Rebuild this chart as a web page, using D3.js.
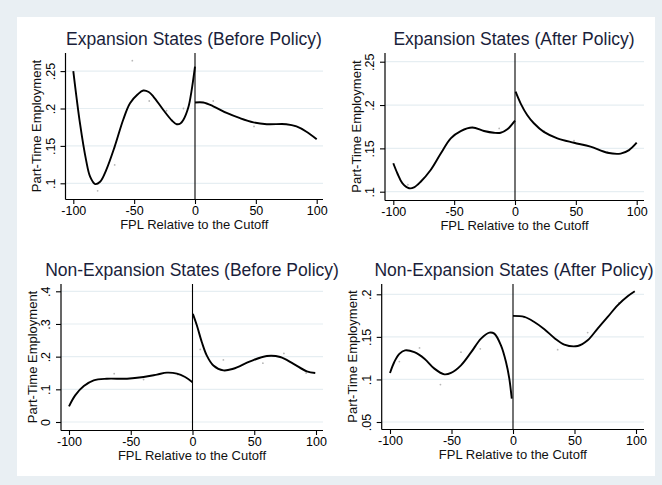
<!DOCTYPE html>
<html><head><meta charset="utf-8">
<script src="https://cdn.jsdelivr.net/npm/d3@7"></script>
<style>
html,body{margin:0;padding:0;background:#e9eff3;}
svg{display:block;}
</style></head>
<body>
<svg id="c" width="662" height="485"></svg>
<script>
// ---------- DATA ----------
const xTicks = [-100, -50, 0, 50, 100];
const xLabel = "FPL Relative to the Cutoff";
const yLabel = "Part-Time Employment";
const titles = [
  "Expansion States (Before Policy)",
  "Expansion States (After Policy)",
  "Non-Expansion States (Before Policy)",
  "Non-Expansion States (After Policy)"
];
const yTicks1 = [0.1, 0.15, 0.2, 0.25];
const yTicks2 = [0.1, 0.15, 0.2, 0.25];
const yTicks3 = [0, 0.1, 0.2, 0.3, 0.4];
const yTicks4 = [0.05, 0.1, 0.15, 0.2];
const yTickText1 = [".1", ".15", ".2", ".25"];
const yTickText2 = [".1", ".15", ".2", ".25"];
const yTickText3 = ["0", ".1", ".2", ".3", ".4"];
const yTickText4 = [".05", ".1", ".15", ".2"];

// Panel 1: Expansion, before
const expBeforeLeft = [[-100,0.25],[-94.5,0.180],[-89.5,0.131],[-86.2,0.109],[-82,0.099],[-78,0.102],[-72.9,0.118],[-66,0.149],[-59,0.185],[-53.4,0.207],[-47,0.219],[-42.5,0.224],[-38,0.222],[-34.2,0.216],[-26,0.198],[-19,0.184],[-15,0.179],[-12,0.180],[-9.5,0.185],[-5.4,0.202],[-3,0.222],[0,0.256]];
const expBeforeRight = [[0,0.208],[6.8,0.208],[15,0.203],[26,0.194],[37,0.187],[48,0.1815],[59,0.179],[75,0.179],[83.4,0.176],[91.6,0.169],[100,0.159]];
const expBeforeDots = [[-94.5,0.180],[-80,0.090],[-66,0.1245],[-51.5,0.264],[-37.6,0.210],[-23.4,0.197],[-9.5,0.200],[15,0.210],[48.5,0.176],[82,0.177]];

// Panel 2: Expansion, after
const expAfterLeft = [[-100,0.1328],[-96.6,0.121],[-92.6,0.110],[-87,0.104],[-83,0.105],[-77.5,0.1115],[-69.3,0.125],[-61,0.144],[-52.8,0.1616],[-44.6,0.170],[-35,0.174],[-25.5,0.170],[-17.3,0.168],[-11.8,0.168],[-6.3,0.172],[0,0.182]];
const expAfterRight = [[0.5,0.2154],[4.6,0.202],[10,0.1885],[15.5,0.179],[23.7,0.169],[34.8,0.1616],[48.5,0.1565],[62,0.152],[75.9,0.145],[86.8,0.144],[93.7,0.148],[100,0.1565]];
const expAfterDots = [[-88,0.108],[-35,0.174],[-13,0.173],[24,0.170],[48.5,0.159],[76,0.146]];

// Panel 3: Non-expansion, before
const nonBeforeLeft = [[-100,0.048],[-95,0.0816],[-88,0.110],[-80,0.1275],[-69.4,0.1325],[-53,0.1325],[-39.6,0.1376],[-28.8,0.145],[-20.7,0.151],[-12.6,0.148],[-6,0.1376],[0,0.122]];
const nonBeforeRight = [[0.3,0.331],[3.5,0.296],[7.5,0.245],[11.5,0.204],[16.9,0.173],[25,0.158],[33,0.163],[46.7,0.1856],[60.2,0.202],[71,0.199],[81.8,0.178],[92.6,0.155],[99.4,0.150]];
const nonBeforeDots = [[-63.4,0.148],[-39.6,0.130],[-12,0.145],[6.3,0.222],[25,0.190],[57,0.180],[74,0.210],[92,0.150]];

// Panel 4: Non-expansion, after
const nonAfterLeft = [[-100,0.1076],[-96.5,0.1205],[-92.4,0.130],[-87.8,0.1342],[-80.2,0.132],[-72,0.1244],[-63.9,0.1127],[-55.8,0.106],[-50.4,0.1076],[-42.3,0.1166],[-34,0.132],[-26,0.148],[-19.2,0.155],[-15.2,0.1538],[-9.8,0.140],[-5.7,0.1205],[-3,0.1009],[-1,0.0774]];
const nonAfterRight = [[0,0.1746],[9.2,0.1734],[17.3,0.1675],[25.5,0.159],[33.6,0.1487],[41.7,0.1409],[52.6,0.1393],[60.7,0.146],[68.8,0.1597],[77,0.1734],[85,0.187],[93.2,0.1977],[99,0.2036]];
const nonAfterDots = [[-92.4,0.121],[-76,0.137],[-59,0.094],[-42.3,0.132],[-26.6,0.136],[9,0.173],[36.3,0.135],[60.7,0.155],[86,0.190]];

// ---------- LAYOUT ----------
const panels = [
  {title: titles[0], tx:194, ty:45, axisX:65.5, right:323, top:53, bottom:199, xr:[73.3,316.7], yd:[0.1,0.25], yr:[183.3,71.1], yt:yTicks1, ytt:yTickText1, left:expBeforeLeft, rightC:expBeforeRight, dots:expBeforeDots},
  {title: titles[1], tx:514, ty:45, axisX:385, right:644, top:53, bottom:200, xr:[393.3,636.7], yd:[0.1,0.25], yr:[191.7,61.7], yt:yTicks2, ytt:yTickText2, left:expAfterLeft, rightC:expAfterRight, dots:expAfterDots},
  {title: titles[2], tx:192, ty:276, axisX:61, right:323, top:284, bottom:430, xr:[69,316], yd:[0,0.4], yr:[422,291.3], yt:yTicks3, ytt:yTickText3, left:nonBeforeLeft, rightC:nonBeforeRight, dots:nonBeforeDots},
  {title: titles[3], tx:514, ty:276, axisX:381.7, right:644, top:284, bottom:429, xr:[390,636], yd:[0.05,0.2], yr:[422,294.3], yt:yTicks4, ytt:yTickText4, left:nonAfterLeft, rightC:nonAfterRight, dots:nonAfterDots}
];

const svg = d3.select("#c");
svg.append("rect").attr("x",0).attr("y",0).attr("width",662).attr("height",485).attr("fill","#e9eff3");
svg.append("rect").attr("x",17).attr("y",17).attr("width",638).attr("height",459).attr("fill","#ffffff");

const font = "Arial, 'Liberation Sans', sans-serif";

panels.forEach(p => {
  const g = svg.append("g");
  const x = d3.scaleLinear().domain([-100,100]).range(p.xr);
  const y = d3.scaleLinear().domain(p.yd).range(p.yr);

  // gridlines
  g.selectAll("line.grid").data(p.yt).enter().append("line")
    .attr("x1", p.axisX).attr("x2", p.right)
    .attr("y1", d => y(d)).attr("y2", d => y(d))
    .attr("stroke", "#e6eef2").attr("stroke-width", 1.2);

  // scatter dots
  g.selectAll("circle").data(p.dots).enter().append("circle")
    .attr("cx", d => x(d[0])).attr("cy", d => y(d[1])).attr("r", 0.9)
    .attr("fill", "#b8b8b8");

  // x axis
  const xAxis = d3.axisBottom(x).tickValues(xTicks).tickSize(5).tickFormat(d => String(d));
  const gx = g.append("g").attr("transform", `translate(0,${p.bottom})`).call(xAxis);
  gx.select(".domain").remove();
  gx.append("line").attr("x1", p.axisX).attr("x2", p.right).attr("y1",0.5).attr("y2",0.5)
    .attr("stroke","#000").attr("stroke-width",1.2);
  gx.selectAll(".tick line").attr("stroke","#000").attr("stroke-width",1.1);
  gx.selectAll(".tick text").attr("y", 7).attr("dy","0.71em")
    .attr("font-family", font).attr("font-size", 12.5).attr("fill","#000");

  // y axis
  const yAxis = d3.axisLeft(y).tickValues(p.yt).tickSize(5).tickFormat((d,i) => p.ytt[i]);
  const gy = g.append("g").attr("transform", `translate(${p.axisX},0)`).call(yAxis);
  gy.select(".domain").remove();
  gy.append("line").attr("x1",0).attr("x2",0).attr("y1", p.top).attr("y2", p.bottom+0.5)
    .attr("stroke","#000").attr("stroke-width",1.2);
  gy.selectAll(".tick line").attr("stroke","#000").attr("stroke-width",1.1);
  gy.selectAll(".tick text")
    .attr("x", null).attr("dy", null)
    .attr("transform", "translate(-11,0) rotate(-90)")
    .attr("text-anchor","middle")
    .attr("font-family", font).attr("font-size", 12.5).attr("fill","#000");

  // cutoff line
  g.append("line").attr("x1", x(0)).attr("x2", x(0)).attr("y1", p.top).attr("y2", p.bottom)
    .attr("stroke","#000").attr("stroke-width",1.1);

  // fitted curves
  const line = d3.line().x(d => x(d[0])).y(d => y(d[1])).curve(d3.curveCatmullRom.alpha(0.5));
  [p.left, p.rightC].forEach(arr => {
    g.append("path").attr("d", line(arr)).attr("fill","none")
      .attr("stroke","#000").attr("stroke-width",1.9);
  });

  // axis titles
  g.append("text").attr("x", (p.axisX + p.right)/2).attr("y", p.bottom + 30)
    .attr("text-anchor","middle").attr("font-family", font).attr("font-size", 13)
    .attr("fill","#111").text(xLabel);
  g.append("text")
    .attr("transform", `translate(${p.axisX - 24.5},${(p.top + p.bottom)/2}) rotate(-90)`)
    .attr("text-anchor","middle").attr("font-family", font).attr("font-size", 13)
    .attr("fill","#111").text(yLabel);

  // panel title
  g.append("text").attr("x", p.tx).attr("y", p.ty).attr("text-anchor","middle")
    .attr("font-family", font).attr("font-size", 17.5).attr("fill","#1a1e3a").text(p.title);
});
</script>
</body></html>
